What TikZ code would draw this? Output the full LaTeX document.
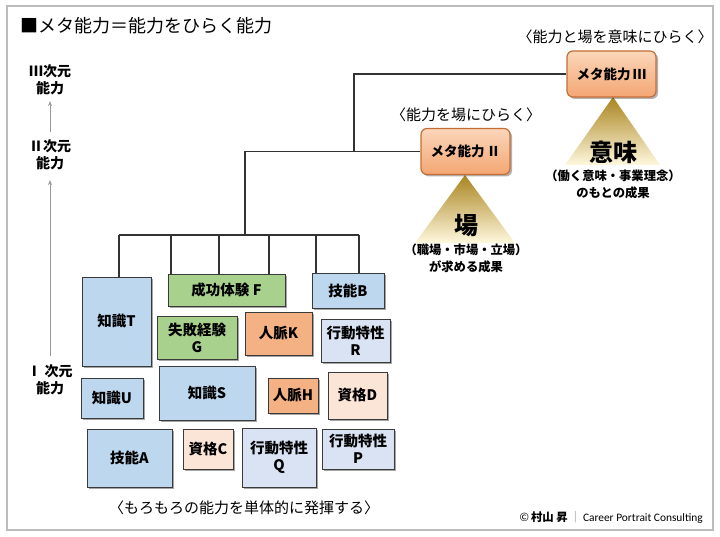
\documentclass[tikz,border=0pt]{standalone}
\usepackage{fontspec}
\setmainfont{Noto Sans CJK JP}
\newfontfamily\lat{Carlito}
\usetikzlibrary{shadows,calc,arrows.meta}
\definecolor{blueA}{HTML}{BDD7EE}
\definecolor{lav}{HTML}{DAE3F3}
\definecolor{grn}{HTML}{A9D18E}
\definecolor{orng}{HTML}{F4B183}
\definecolor{peach}{HTML}{FBE5D6}
\definecolor{bordc}{HTML}{3A3A3A}
\definecolor{metaT}{HTML}{FBD6BA}
\definecolor{metaB}{HTML}{F3A673}
\definecolor{metaD}{HTML}{C46E35}
\definecolor{goldT}{HTML}{A9841F}
\definecolor{goldM}{HTML}{DDBF55}
\definecolor{goldB}{HTML}{FFF8DE}
\definecolor{framec}{HTML}{BBBBBB}
\definecolor{linec}{HTML}{333333}
\definecolor{arrc}{HTML}{999999}
\begin{document}
\begin{tikzpicture}[x=1pt,y=-1pt,
  box/.style={draw=bordc, line width=0.9pt, inner sep=0pt, align=center,
    font=\fontsize{14.5}{17}\selectfont\bfseries,
    drop shadow={shadow xshift=2pt, shadow yshift=-2pt, opacity=0.35, fill=black}},
  meta/.style={draw=metaD, line width=1.2pt, rounded corners=6pt, inner sep=0pt,
    minimum width=89pt, minimum height=46pt, top color=metaT, bottom color=metaB,
    font=\fontsize{13.5}{16}\selectfont\bfseries,
    drop shadow={shadow xshift=2pt, shadow yshift=-2pt, opacity=0.3, fill=black}},
  conn/.style={draw=linec, line width=1.1pt},
  dim/.style={align=center, inner sep=0pt, font=\fontsize{14}{16.5}\selectfont\bfseries},
  arr/.style={draw=arrc, line width=0.8pt, -{Stealth[length=5pt,width=4pt]}},
  lbl/.style={inner sep=0pt, font=\fontsize{15}{17}\selectfont},
  sub/.style={inner sep=0pt, align=center, font=\fontsize{12.3}{16.5}\selectfont\bfseries},
  big/.style={inner sep=0pt, font=\fontsize{24}{26}\selectfont\bfseries}
]
\useasboundingbox (0,0) rectangle (720,537);
\fill[white] (0,0) rectangle (720,537);
\draw[framec, line width=1.2pt] (7,6) rectangle (713,530);

% title
\node[anchor=west, inner sep=0pt, font=\fontsize{18}{20}\selectfont] (title) at (20,26) {■メタ能力＝能力をひらく能力};

% dimension labels
\node[dim] (D3) at (50,80) {Ⅲ次元\\能力};
\node[dim] (D2) at (50,155) {Ⅱ次元\\能力};
\node[dim] (D1) at (50,380) {Ⅰ 次元\\能力};
\draw[arr, shorten <=9pt, shorten >=10pt] (D1.north) -- (D2.south);
\draw[arr, shorten <=8pt, shorten >=6pt] (D2.north) -- (D3.south);

% triangles
\shade[top color=goldT, middle color=goldM, bottom color=goldB] (465,175) -- (515,243) -- (415,243) -- cycle;
\shade[top color=goldT, middle color=goldM, bottom color=goldB] (613,97) -- (660,165) -- (565,165) -- cycle;

% meta boxes
\node[meta] (M3) at (611.5,74) {メタ能力\,Ⅲ};
\node[meta] (M2) at (465.5,151.5) {メタ能力\,Ⅱ};
\node[lbl] (L3) at (615,37) {〈能力と場を意味にひらく〉};
\node[lbl] (L2) at (466,115) {〈能力を場にひらく〉};

\node[big] (ba) at (466,226) {場};
\node[sub] (bs) at (466,258.5) {（職場・市場・立場）\\が求める成果};
\node[big] (ia) at (613,152) {意味};
\node[sub] (is) at (613,184.5) {（働く意味・事業理念）\\のもとの成果};

% ability boxes
\node[box, fill=blueA, minimum width=69pt, minimum height=89pt] (T) at (116.5,321.5) {知識T};
\node[box, fill=grn, minimum width=117pt, minimum height=32pt] (F) at (226.5,290) {成功体験 F};
\node[box, fill=blueA, minimum width=72pt, minimum height=35pt] (B) at (348,290.5) {技能B};
\node[box, fill=grn, minimum width=80pt, minimum height=43pt] (G) at (197,337.5) {失敗経験\\G};
\node[box, fill=orng, minimum width=67pt, minimum height=43pt] (K) at (278.5,333.5) {人脈K};
\node[box, fill=lav, minimum width=69pt, minimum height=43pt] (R) at (355.5,340.5) {行動特性\\R};
\node[box, fill=blueA, minimum width=62pt, minimum height=40pt] (U) at (112,398) {知識U};
\node[box, fill=blueA, minimum width=96pt, minimum height=54pt] (S) at (207,393) {知識S};
\node[box, fill=orng, minimum width=50pt, minimum height=35pt] (H) at (293,395.5) {人脈H};
\node[box, fill=peach, minimum width=59pt, minimum height=47pt] (D) at (357.5,395.5) {資格D};
\node[box, fill=blueA, minimum width=85pt, minimum height=58pt] (A) at (129.5,458) {技能A};
\node[box, fill=peach, minimum width=50pt, minimum height=40pt] (C) at (208,449) {資格C};
\node[box, fill=lav, minimum width=74pt, minimum height=59pt] (Q) at (279,457.5) {行動特性\\Q};
\node[box, fill=lav, minimum width=72pt, minimum height=40pt] (P) at (358,449) {行動特性\\P};

% connectors
\coordinate (d1) at (119,235);
\coordinate (d2) at (171,235);
\coordinate (d3) at (219,235);
\coordinate (hub) at (245,235);
\coordinate (d4) at (269,235);
\coordinate (d5) at (316,235);
\coordinate (d6) at (359,235);
\coordinate (j) at (354,151.5);
\draw[conn] (d1) -- (d6);
\draw[conn] (d1) -- (d1 |- T.north);
\draw[conn] (d2) -- (d2 |- F.north);
\draw[conn] (d3) -- (d3 |- F.north);
\draw[conn] (d4) -- (d4 |- F.north);
\draw[conn] (d5) -- (d5 |- B.north);
\draw[conn] (d6) -- (d6 |- B.north);
\draw[conn] (hub) |- (M2.west);
\draw[conn] (j) |- (M3.west);

% bottom label
\node[lbl] (bot) at (244,508) {〈もろもろの能力を単体的に発揮する〉};

% copyright
\node[anchor=east, inner sep=0pt, font=\fontsize{11.4}{13}\selectfont] (cr) at (703,517) {©\,\textbf{村山 昇}\,{\color{gray}｜}\,{\lat Career Portrait Consulting}};
\end{tikzpicture}
\end{document}
